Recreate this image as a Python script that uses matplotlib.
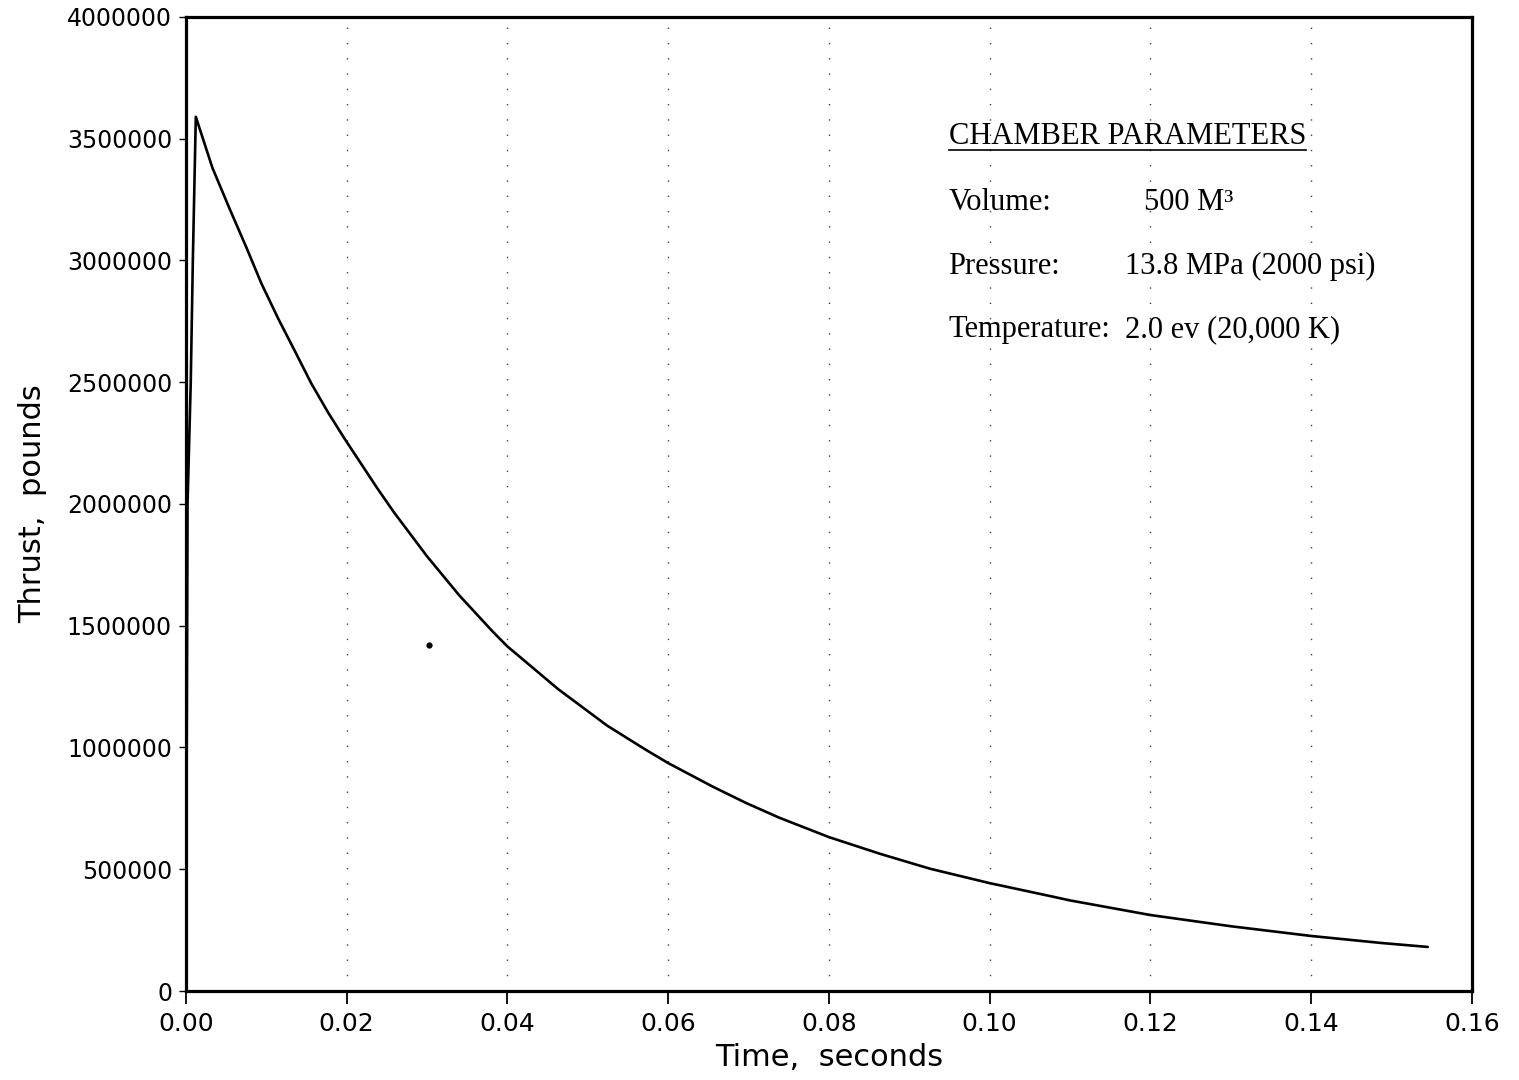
import matplotlib
matplotlib.use("Agg")
import matplotlib.pyplot as plt
from matplotlib.lines import Line2D

# thrust history
time_s = [0.0, 0.0002, 0.0006, 0.00086, 0.00123, 0.0033, 0.0054, 0.0075, 0.0094,
          0.0115, 0.0136, 0.0156, 0.0177, 0.0198, 0.0217, 0.0238, 0.0259, 0.030,
          0.034, 0.0382, 0.040, 0.0463, 0.0524, 0.0571, 0.060, 0.0655, 0.0697,
          0.0738, 0.080, 0.0864, 0.0926, 0.100, 0.1075, 0.110, 0.120, 0.130, 0.140,
          0.1488, 0.1545]
thrust_lb = [0, 2.0e6, 2.5e6, 3.0e6, 3.59e6, 3.38e6, 3.215e6, 3.055e6, 2.905e6,
             2.76e6, 2.625e6, 2.495e6, 2.375e6, 2.265e6, 2.17e6, 2.065e6, 1.965e6, 1.785e6,
             1.625e6, 1.475e6, 1.415e6, 1.24e6, 1.09e6, 0.993e6, 0.936e6, 0.84e6, 0.772e6,
             0.712e6, 0.632e6, 0.563e6, 0.502e6, 0.443e6, 0.39e6, 0.372e6, 0.312e6, 0.266e6,
             0.226e6, 0.197e6, 0.181e6]

# stray speck on the original scan
speck_t = [0.0303]
speck_y = [1.42e6]

x_ticks = [0.0, 0.02, 0.04, 0.06, 0.08, 0.10, 0.12, 0.14, 0.16]
x_labels = ["0.00", "0.02", "0.04", "0.06", "0.08", "0.10", "0.12", "0.14", "0.16"]
y_ticks = [0, 500000, 1000000, 1500000, 2000000, 2500000, 3000000, 3500000, 4000000]
y_labels = [str(v) for v in y_ticks]

param_names = ["Volume:", "Pressure:", "Temperature:"]
param_values = ["500 M\u00b3", "13.8 MPa (2000 psi)", "2.0 ev (20,000 K)"]

fig = plt.figure(figsize=(15.19, 10.8), dpi=100)
ax = fig.add_axes([0.1224, 0.0824, 0.8466, 0.9019])

ax.plot(time_s, thrust_lb, color="black", linewidth=1.9,
        solid_joinstyle="round", solid_capstyle="round")
ax.plot(speck_t, speck_y, "o", color="black", markersize=3.5)

ax.set_xlim(0, 0.16)
ax.set_ylim(0, 4000000)
ax.set_xticks(x_ticks)
ax.set_xticklabels(x_labels)
ax.set_yticks(y_ticks)
ax.set_yticklabels(y_labels)

for lab in ax.get_xticklabels():
    lab.set_fontfamily("DejaVu Sans")
    lab.set_fontsize(18)
for lab in ax.get_yticklabels():
    lab.set_fontfamily("DejaVu Sans")
    lab.set_fontsize(17)
ax.tick_params(axis="x", direction="out", length=9, width=1.3, pad=6)
ax.tick_params(axis="y", direction="out", length=5, width=1.0, pad=5)

ax.grid(axis="x", color="#444444", linestyle=(0, (1, 10)), linewidth=1.0)
for s in ax.spines.values():
    s.set_linewidth(2.3)

ax.set_xlabel("Time,  seconds", fontsize=22, fontfamily="DejaVu Sans", labelpad=5)
ax.set_ylabel("Thrust,  pounds", fontsize=22, fontfamily="DejaVu Sans", labelpad=14)

serif = "Liberation Serif"
fs = 22
hdr = ax.text(0.593, 0.870, "CHAMBER PARAMETERS", transform=ax.transAxes,
              fontsize=fs, fontfamily=serif, va="baseline")
row_y = [0.802, 0.736, 0.671]
val_x = [0.745, 0.730, 0.730]
for name, val, yy, vx in zip(param_names, param_values, row_y, val_x):
    ax.text(0.593, yy, name, transform=ax.transAxes, fontsize=fs,
            fontfamily=serif, va="baseline")
    ax.text(vx, yy, val, transform=ax.transAxes, fontsize=fs,
            fontfamily=serif, va="baseline")

# underline the header
fig.canvas.draw()
bb = hdr.get_window_extent().transformed(fig.transFigure.inverted())
y_line = bb.y0 + 0.0005
fig.add_artist(Line2D([bb.x0, bb.x1], [y_line, y_line], color="black", linewidth=1.2))

fig.savefig("out.png", dpi=100)
